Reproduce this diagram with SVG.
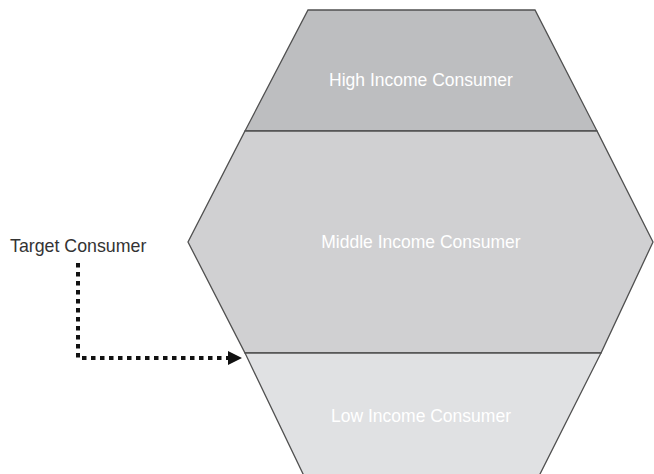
<svg xmlns="http://www.w3.org/2000/svg" width="654" height="474" viewBox="0 0 654 474">
<style>
.seg{stroke:#505050;stroke-width:1.3;stroke-linejoin:miter}
.lbl{font-family:"Liberation Sans",Arial,sans-serif;font-size:17.5px;fill:#ffffff;text-anchor:middle;dominant-baseline:central}
.tgt{font-family:"Liberation Sans",Arial,sans-serif;font-size:17.8px;fill:#333333}
.dot{fill:none;stroke:#111111;stroke-width:4;stroke-dasharray:4.5 4.5}
</style>
<rect width="654" height="474" fill="#ffffff"/>
<g id="high">
<polygon class="seg" fill="#bdbec0" points="308,10 535,10 597,131 245,131"/>
<text class="lbl" x="421" y="80">High Income Consumer</text>
</g>
<g id="middle">
<polygon class="seg" fill="#d0d0d2" points="245,131 597,131 653,242 601,353 245,353 188,242"/>
<text class="lbl" x="421" y="242">Middle Income Consumer</text>
</g>
<g id="low">
<polygon class="seg" fill="#e0e1e3" points="245,353 601,353 538,478 305,478"/>
<text class="lbl" x="421" y="416">Low Income Consumer</text>
</g>
<g id="target">
<text class="tgt" x="10" y="252">Target Consumer</text>
</g>
<g id="connectors">
<path class="dot" d="M78,263 L78,358 L229,358"/>
<path d="M228,351 L242,358 L228,365 Z" fill="#111111"/>
</g>
</svg>
